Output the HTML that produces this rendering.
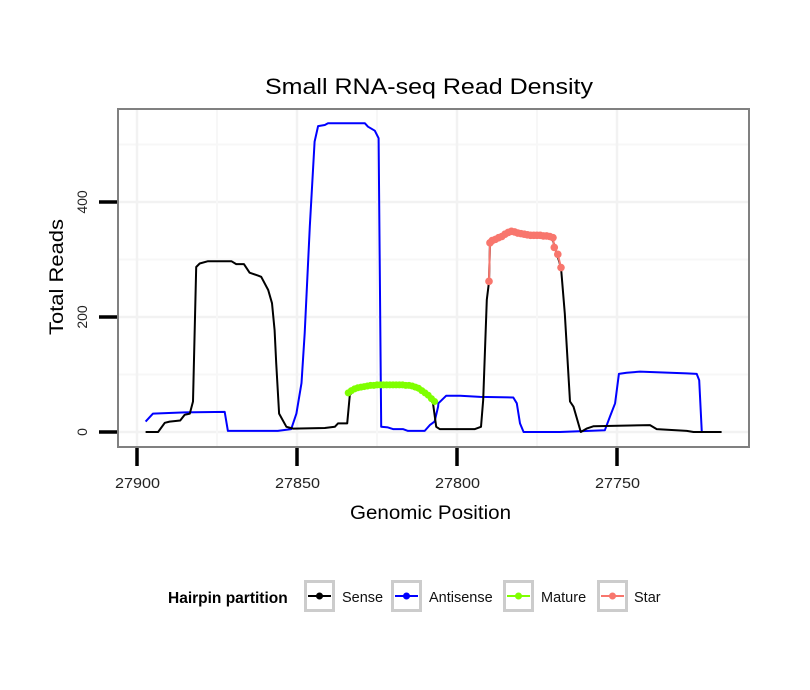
<!DOCTYPE html>
<html><head><meta charset="utf-8">
<style>
body{margin:0;background:#fff;}
svg{display:block;font-family:"Liberation Sans",Arial,sans-serif;}
</style></head>
<body>
<svg id="chart" width="810" height="690" viewBox="0 0 810 690">
<rect x="0" y="0" width="810" height="690" fill="#fff"/>
<text x="265" y="94" font-size="22.5" textLength="328" lengthAdjust="spacingAndGlyphs">Small RNA-seq Read Density</text>
<g id="grid"></g>
<g id="series"></g>
<rect x="118" y="109" width="631" height="338" fill="none" stroke="#808080" stroke-width="2"/>
<g id="axes"></g>
<text x="350" y="519" font-size="19" textLength="161" lengthAdjust="spacingAndGlyphs">Genomic Position</text>
<text transform="translate(63,335) rotate(-90)" font-size="19" textLength="116" lengthAdjust="spacingAndGlyphs">Total Reads</text>
<g id="legend">
<text x="168" y="603" font-size="15.5" font-weight="bold">Hairpin partition</text>
</g>
</svg>
<script>
const sensePos=[27897.3,27893.4,27891.3,27889.8,27886.5,27885.1,27883.5,27882.5,27881.5,27880.4,27877.8,27870.5,27869,27866.6,27864.8,27862.2,27861.2,27859,27857.8,27857,27856.5,27855.6,27853.3,27851.2,27841.3,27838.2,27837.2,27834.3,27833.5,27832,27829,27825,27814,27810,27807.5,27806.5,27805.4,27794.4,27792.5,27791.8,27790.7,27790,27789.7,27784,27774,27770.4,27767.5,27766.3,27764.7,27763.6,27761.3,27759.5,27757.4,27739.7,27737.6,27728.2,27726.1,27717.3];
const senseVal=[0,0,16,18,20,30,32,53,287,293,297,297,292,292,277,272,270,247,224,177,120,32,9,6,7,9,15,15,64,75,79,82,81,70,50,9,5,5,9,56,230,261,329,347,342,340,286,206,53,44,0,6,10,12,5,2,0,0];
const antiPos=[27897.3,27895,27885.1,27872.6,27871.6,27856,27851.8,27850.2,27848.6,27847.6,27846,27844.5,27843.4,27841.3,27840.3,27828.8,27827.8,27825.7,27824.5,27823.7,27821.6,27820,27816.9,27815.3,27810.1,27808.5,27807,27805.9,27805.8,27803.4,27799,27792.8,27782.4,27781.3,27780.3,27779.2,27767.8,27753.8,27752.2,27750.6,27749.4,27747,27742.8,27728.2,27725.1,27724.3,27723.5];
const antiVal=[18,32,34,35,2,2,5,32,85,172,357,505,532,534,537,537,531,524,511,9,8,5,5,2,2,12,18,44,50,63,63,61,60,50,15,0,0,3,27,50,101,103,105,102,101,90,0];
const maturePos=[27834,27833,27832,27831,27830,27829,27828,27827,27826,27825,27824,27823,27822,27821,27820,27819,27818,27817,27816,27815,27814,27813,27812,27811,27810,27809,27808,27807];
const matureVal=[68,72,75,77,78,79,80,81,81,82,82,82,82,82,82,82,82,82,81,81,80,78,76,72,68,64,58,53];
const starPos=[27790,27789.7,27789,27788,27787,27786,27785,27784,27783,27782,27781,27780,27779,27778,27777,27776,27775,27774,27773,27772,27771,27770,27769.6,27768.5,27767.5];
const starVal=[262,329,333,335,338,340,344,347,349,348,346,345,344,343,342,342,342,342,341,341,340,338,321,309,286];
const xTicks=[27900,27850,27800,27750];
const yTicks=[0,200,400];
const yMinor=[100,300,500];
const xMinor=[27875,27825,27775];

const NS="http://www.w3.org/2000/svg";
const X=p=>137+(27900-p)*3.2;
const Y=v=>432-v*0.575;
function mk(tag,attrs,parent){const e=document.createElementNS(NS,tag);for(const k in attrs)e.setAttribute(k,attrs[k]);parent.appendChild(e);return e;}
const grid=document.getElementById('grid'),ser=document.getElementById('series'),axes=document.getElementById('axes'),leg=document.getElementById('legend');

mk('rect',{x:118,y:109,width:631,height:338,fill:'#fff'},grid);
yMinor.forEach(v=>{const l=mk('line',{x1:118,x2:749,y1:Y(v),y2:Y(v),stroke:'#f7f7f7','stroke-width':2},grid);

});
yTicks.forEach(v=>{const l=mk('line',{x1:118,x2:749,y1:Y(v),y2:Y(v),stroke:'#f2f2f2','stroke-width':2.5},grid);

});
xMinor.forEach(p=>{const l=mk('line',{x1:X(p),x2:X(p),y1:109,y2:447,stroke:'#f7f7f7','stroke-width':2},grid);

});
xTicks.forEach(p=>{const l=mk('line',{x1:X(p),x2:X(p),y1:109,y2:447,stroke:'#f2f2f2','stroke-width':2.5},grid);

});

function line(ps,vs,color,w,name){const d=ps.map((p,i)=>(i?'L':'M')+X(p).toFixed(1)+','+Y(vs[i]).toFixed(1)).join('');
const e=mk('path',{d:d,fill:'none',stroke:color,'stroke-width':w,'stroke-linejoin':'round'},ser);

}
function dots(ps,vs,color,r,name){ps.forEach((p,i)=>{const c=mk('circle',{cx:X(p),cy:Y(vs[i]),r:r,fill:color},ser);

});}
line(antiPos,antiVal,'#0000ff',2,'antisense-line');
line(sensePos,senseVal,'#000',2,'sense-line');
line(maturePos,matureVal,'#7fff00',2,'mature-line');
dots(maturePos,matureVal,'#7fff00',3.5,'mature-point');
line(starPos,starVal,'#f8766d',2,'star-line');
dots(starPos,starVal,'#f8766d',3.8,'star-point');

yTicks.forEach(v=>{const t=mk('line',{x1:99,x2:117,y1:Y(v),y2:Y(v),stroke:'#000','stroke-width':3.5},axes);


const tx=mk('text',{transform:`translate(87,${Y(v)}) rotate(-90)`,'font-size':14,'text-anchor':'middle',fill:'#222'},axes);tx.textContent=v;

});
xTicks.forEach(p=>{const t=mk('line',{x1:X(p),x2:X(p),y1:448,y2:466,stroke:'#000','stroke-width':3.5},axes);


const tx=mk('text',{x:X(p)-22,y:488,'font-size':15,textLength:45,lengthAdjust:'spacingAndGlyphs',fill:'#222'},axes);tx.textContent=p;

});

const legItems=[['Sense','#000',304,342],['Antisense','#0000ff',391,429],['Mature','#7fff00',503,541],['Star','#f8766d',597,634]];
legItems.forEach(([lab,col,bx,tx])=>{
const g=mk('g',{},leg);


mk('rect',{x:bx+1.5,y:581.5,width:28,height:29,fill:'#fff',stroke:'#ccc','stroke-width':3},g);
mk('line',{x1:bx+4,x2:bx+27,y1:596,y2:596,stroke:col,'stroke-width':2},g);
mk('circle',{cx:bx+15.5,cy:596,r:3.5,fill:col},g);
const t=mk('text',{x:tx,y:602,'font-size':14.5,fill:'#111'},g);t.textContent=lab;});
</script>
</body></html>
